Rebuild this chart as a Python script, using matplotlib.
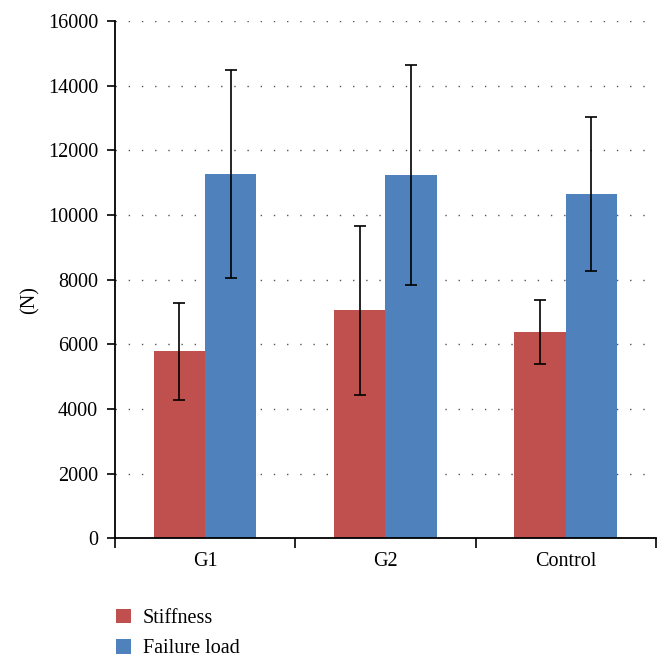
import matplotlib
matplotlib.use('Agg')
import matplotlib.pyplot as plt
import numpy as np

plt.rcParams['font.family'] = ['Liberation Serif', 'DejaVu Serif']

groups = ['G1', 'G2', 'Control']
stiffness = [5780, 7050, 6380]
stiffness_err = [1510, 2610, 1000]
failure = [11270, 11240, 10650]
failure_err = [3230, 3410, 2390]

fig = plt.figure(figsize=(6.72, 6.62), dpi=100)
ax = fig.add_axes([0.171, 0.187, 0.805, 0.781])

x = np.arange(len(groups))
w = 0.285
ax.bar(x - w / 2, stiffness, w, color='#C0504D', label='Stiffness', zorder=2)
ax.bar(x + w / 2, failure, w, color='#4F81BD', label='Failure load', zorder=2)
ax.errorbar(x - w / 2, stiffness, yerr=stiffness_err, fmt='none', ecolor='black',
            elinewidth=1.2, capsize=4.5, capthick=1.2, zorder=3)
ax.errorbar(x + w / 2, failure, yerr=failure_err, fmt='none', ecolor='black',
            elinewidth=1.2, capsize=4.5, capthick=1.2, zorder=3)

ax.set_xlim(-0.5, len(groups) - 0.5)
ax.set_ylim(0, 16000)
ax.set_yticks(np.arange(0, 16001, 2000))
ax.yaxis.grid(True, linestyle=(0, (1, 8.5)), color='#555555', linewidth=1, zorder=0)

ax.set_xticks(np.arange(-0.5, len(groups), 1.0))
ax.set_xticklabels([])
ax.set_xticks(x, minor=True)
ax.set_xticklabels(groups, minor=True, fontsize=14.5)
ax.tick_params(axis='x', which='minor', length=0, pad=10)
ax.tick_params(axis='x', which='major', length=7, width=1.2, direction='out')
ax.tick_params(axis='y', length=6, width=1.2, labelsize=14.5, pad=6)

for s in ['top', 'right']:
    ax.spines[s].set_visible(False)
for s in ['left', 'bottom']:
    ax.spines[s].set_linewidth(1.3)

ax.set_ylabel('(N)', fontsize=14.5)
ax.yaxis.set_label_coords(-0.14, 0.46)

handles, labels = ax.get_legend_handles_labels()
fig.legend(handles, labels, loc='lower left', bbox_to_anchor=(0.145, -0.022),
           frameon=False, fontsize=14.5, handlelength=0.75, handleheight=0.75,
           labelspacing=0.55, handletextpad=0.6)

fig.savefig('out.png', dpi=100)
